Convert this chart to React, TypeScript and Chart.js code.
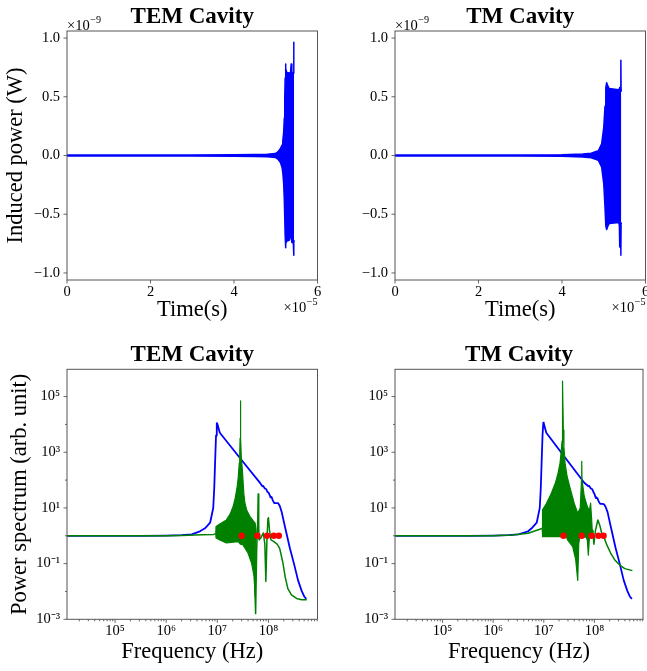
import React, { useEffect, useRef } from 'react';
import { Chart, registerables } from 'chart.js';

Chart.register(...registerables);

const PAGE_W = 647;
const PAGE_H = 671;
const SERIF = '"Liberation Serif", "Times New Roman", Times, serif';
const BLUE = '#0000ff';
const GREEN = '#008000';
const RED = '#ff0000';
const SPINE = '#555555';

// ---------------- Time domain (time in units of 1e-5 s, power in units of 1e-9 W) ----------------
const temTime = [0, 3.0, 4.0, 4.5, 4.8, 4.99, 5.05, 5.11, 5.15, 5.17, 5.19, 5.205, 5.215, 5.225, 5.232, 5.245, 5.26, 5.33, 5.355, 5.37, 5.385, 5.42, 5.43, 5.435, 5.44];
const temUpper = [0.004, 0.005, 0.006, 0.008, 0.01, 0.016, 0.03, 0.057, 0.09, 0.13, 0.2, 0.32, 0.48, 0.66, 0.78, 0.74, 0.71, 0.70, 0.71, 0.78, 0.71, 0.70, 0.965, 0.70, 0.70];
const temLower = [-0.004, -0.005, -0.006, -0.008, -0.01, -0.016, -0.03, -0.057, -0.1, -0.15, -0.24, -0.38, -0.52, -0.68, -0.786, -0.75, -0.73, -0.72, -0.68, -0.64, -0.74, -0.74, -0.85, -0.74, -0.72];

const tmTime = [0, 3.0, 4.0, 4.5, 4.7, 4.87, 4.95, 5.0, 5.03, 5.05, 5.07, 5.10, 5.13, 5.36, 5.375, 5.38, 5.385, 5.405, 5.41, 5.415, 5.42];
const tmUpper = [0.004, 0.005, 0.007, 0.012, 0.02, 0.04, 0.1, 0.24, 0.42, 0.58, 0.62, 0.59, 0.57, 0.56, 0.57, 0.58, 0.57, 0.56, 0.81, 0.56, 0.55];
const tmLower = [-0.004, -0.005, -0.007, -0.012, -0.02, -0.04, -0.1, -0.24, -0.44, -0.6, -0.63, -0.6, -0.58, -0.57, -0.6, -0.78, -0.6, -0.58, -0.85, -0.58, -0.57];

const timeTicks = [0, 2, 4, 6];
const timeTickLabels = ['0', '2', '4', '6'];
const powerTicks = [-1.0, -0.5, 0.0, 0.5, 1.0];
const powerTickLabels = ['\u22121.0', '\u22120.5', '0.0', '0.5', '1.0'];

// ---------------- Frequency domain (Hz, arb. unit) ----------------
const temBlueFreq = [1.15e4, 3.16e5, 1.0e6, 2.0e6, 3.16e6, 4.57e6, 5.75e6, 7.24e6, 8.32e6, 8.71e6, 9.12e6, 9.44e6, 9.77e6, 1.0e7, 1.12e7, 2.82e7, 6.92e7, 7.6e7, 7.9e7, 8.5e7, 9.1e7, 9.5e7, 1.0e8, 1.05e8, 1.1e8, 1.15e8, 1.2e8, 1.3e8, 1.45e8, 1.55e8, 1.66e8, 1.82e8, 2.09e8, 2.63e8, 3.16e8, 3.8e8, 4.47e8, 5.01e8, 5.5e8];
const temBluePower = [1.0, 1.0, 1.02, 1.05, 1.12, 1.45, 1.86, 2.95, 10, 50, 631, 4.0e3, 1.12e4, 1.05e4, 5.0e3, 600, 77.6, 60, 62, 50, 47, 38, 36, 30, 24, 25, 20, 15, 15, 14.8, 12, 7.1, 2.24, 0.355, 0.1, 0.025, 0.0105, 6.6e-3, 5.4e-3];

const temGreenFreq = [1.15e4, 1.0e6, 2.0e6, 5.0e6, 8.5e6, 9.33e6, 2.0e7, 3.98e7, 5.25e7, 5.62e7, 5.89e7, 6.17e7, 6.31e7, 6.46e7, 6.61e7, 7.24e7, 7.94e7, 8.51e7, 8.91e7, 9.33e7, 9.77e7, 1.0e8, 1.05e8, 1.12e8, 1.26e8, 1.48e8, 1.66e8, 1.91e8, 2.14e8, 2.4e8, 2.82e8, 3.55e8, 4.47e8, 5.62e8];
const temGreenPower = [1.0, 1.0, 1.03, 1.08, 1.12, 1.2, 1.0, 0.79, 0.1, 1.6e-3, 0.32, 3.2, 31.6, 2.0, 0.71, 0.89, 1.26, 0.5, 0.023, 0.63, 4.0, 4.47, 1.58, 0.71, 0.63, 0.5, 0.355, 0.112, 0.0316, 0.0126, 7.6e-3, 5.6e-3, 5.0e-3, 5.0e-3];

const temDenseFreq = [9.33e6, 9.44e6, 1.12e7, 1.51e7, 1.78e7, 2.04e7, 2.24e7, 2.45e7, 2.57e7, 2.69e7, 2.75e7, 2.79e7, 2.83e7, 2.88e7, 2.95e7, 3.09e7, 3.31e7, 3.47e7, 3.8e7, 4.37e7, 5.01e7, 5.5e7, 5.75e7];
const temDenseUpper = [1.2, 2.14, 2.63, 3.72, 6.0, 11.2, 22.4, 58.9, 126, 407, 1000, 3160, 7.08e4, 3160, 630, 234, 31.6, 14.8, 7.9, 4.9, 3.5, 2.82, 1.58];
const temDenseLowFreq = [9.33e6, 9.44e6, 1.12e7, 1.51e7, 2.57e7, 2.82e7, 3.16e7, 3.98e7, 4.68e7, 5.25e7, 5.5e7, 5.75e7];
const temDenseLower = [1.2, 0.83, 0.71, 0.55, 0.62, 0.5, 0.48, 0.24, 0.105, 0.035, 6.6e-3, 1.58];

const temModeFreq = [3.0e7, 6.1e7, 9.4e7, 1.27e8, 1.6e8];
const temModePower = [1, 1, 1, 1, 1];

const tmBlueFreq = [1.15e4, 3.16e5, 1.0e6, 2.0e6, 3.16e6, 4.9e6, 5.75e6, 7.24e6, 8.32e6, 8.71e6, 9.12e6, 9.44e6, 9.77e6, 1.0e7, 1.12e7, 2.19e7, 6.31e7, 7.6e7, 7.9e7, 8.5e7, 9.1e7, 9.5e7, 1.0e8, 1.07e8, 1.1e8, 1.15e8, 1.2e8, 1.3e8, 1.45e8, 1.55e8, 1.66e8, 1.82e8, 2.09e8, 2.63e8, 3.16e8, 3.8e8, 4.47e8, 5.01e8, 5.5e8];
const tmBluePower = [1.0, 1.0, 1.02, 1.05, 1.12, 1.45, 1.86, 2.95, 10, 50, 631, 4.0e3, 1.15e4, 1.08e4, 5.0e3, 1000, 80, 60, 62, 50, 47, 38, 32, 22.4, 24, 22, 18, 14, 14, 13.5, 11, 7.1, 2.24, 0.355, 0.1, 0.025, 0.0105, 6.6e-3, 5.4e-3];

const tmGreenFreq = [1.15e4, 1.0e6, 2.34e6, 4.9e6, 8.91e6, 9.33e6, 2.0e7, 5.0e7, 9.12e7, 9.33e7, 9.77e7, 1.05e8, 1.17e8, 1.29e8, 1.41e8, 1.58e8, 1.78e8, 2.09e8, 2.51e8, 3.16e8, 3.98e8, 5.62e8];
const tmGreenPower = [1.0, 1.0, 1.07, 1.23, 1.78, 1.86, 1.2, 1.0, 1.26, 1.58, 0.5, 1.58, 3.7, 2.24, 1.12, 0.79, 0.45, 0.24, 0.138, 0.089, 0.066, 0.056];

const tmDenseFreq = [9.33e6, 9.44e6, 1.12e7, 1.41e7, 1.7e7, 1.91e7, 2.09e7, 2.19e7, 2.29e7, 2.32e7, 2.37e7, 2.43e7, 2.5e7, 2.63e7, 2.88e7, 3.24e7, 3.98e7, 4.68e7, 5.25e7, 5.56e7, 5.62e7, 5.69e7, 6.31e7, 7.24e7, 7.94e7, 8.41e7, 8.81e7, 9.12e7];
const tmDenseUpper = [1.86, 8.5, 14.1, 33.9, 80, 178, 400, 933, 2500, 6310, 3.63e5, 6310, 1500, 407, 140, 58.9, 14.8, 6.5, 10, 100, 468, 100, 25.7, 11.2, 7.9, 14.8, 4.0, 1.26];
const tmDenseLowFreq = [9.33e6, 9.44e6, 2.0e7, 2.82e7, 2.95e7, 3.72e7, 4.27e7, 4.68e7, 4.9e7, 5.13e7, 6.92e7, 7.24e7, 7.59e7, 7.94e7, 8.51e7, 9.12e7];
const tmDenseLower = [1.86, 0.93, 0.93, 0.89, 0.71, 0.41, 0.138, 0.025, 0.5, 0.93, 0.89, 0.71, 0.2, 0.79, 0.89, 1.26];

const tmModeFreq = [2.45e7, 5.63e7, 8.82e7, 1.2e8, 1.52e8];
const tmModePower = [1, 1, 1, 1, 1];

const freqTicks = [1e5, 1e6, 1e7, 1e8];
const freqTickLabels = ['10\u2075', '10\u2076', '10\u2077', '10\u2078'];
const specTicks = [1e-3, 1e-1, 1e1, 1e3, 1e5];
const specTickLabels = ['10\u207B\u00B3', '10\u207B\u00B9', '10\u00B9', '10\u00B3', '10\u2075'];
const specMinorTicks = [1e-2, 1e0, 1e2, 1e4];

const FREQ_MIN = Math.pow(10, 4.06);
const FREQ_MAX = Math.pow(10, 8.96);
const SPEC_MIN = 1e-3;
const SPEC_MAX = Math.pow(10, 5.98);

function freqMinorTicks(): number[] {
  const out: number[] = [];
  for (let e = 4; e <= 8; e++) {
    for (let k = 2; k <= 9; k++) {
      const v = k * Math.pow(10, e);
      if (v > FREQ_MIN && v < FREQ_MAX) out.push(v);
    }
  }
  return out;
}

const pts = (xs: number[], ys: number[]) => xs.map((x, i) => ({ x, y: ys[i] }));

type Area = { left: number; top: number; right: number; bottom: number };
interface Panel {
  key: string;
  kind: 'time' | 'freq';
  title: string;
  xTitle: string;
  yTitle: string | null;
  area: Area;
  yTitleX: number;
  xTitleY: number;
  datasets: any[];
}

function lineDs(data: any[], color: string, width: number, order: number, fill: any = false) {
  return {
    data,
    borderColor: color,
    backgroundColor: color,
    borderWidth: width,
    pointRadius: 0,
    borderJoinStyle: 'round',
    fill,
    order,
  };
}

function timeDatasets(t: number[], up: number[], lo: number[]) {
  return [lineDs(pts(t, up), BLUE, 1.5, 1, false), lineDs(pts(t, lo), BLUE, 1.5, 1, '-1')];
}

function freqDatasets(
  bf: number[], bp: number[], gf: number[], gp: number[],
  df: number[], du: number[], dlf: number[], dl: number[],
  mf: number[], mp: number[]
) {
  return [
    lineDs(pts(bf, bp), BLUE, 1.8, 4),
    lineDs(pts(gf, gp), GREEN, 1.5, 3),
    lineDs(pts(df, du), GREEN, 1.2, 2, false),
    lineDs(pts(dlf, dl), GREEN, 1.2, 2, '-1'),
    {
      data: pts(mf, mp),
      showLine: false,
      pointRadius: 3.2,
      pointBackgroundColor: RED,
      pointBorderWidth: 0,
      borderColor: RED,
      backgroundColor: RED,
      order: 1,
    },
  ];
}

const PANELS: Panel[] = [
  {
    key: 'tem-time', kind: 'time', title: 'TEM Cavity', xTitle: 'Time(s)', yTitle: 'Induced power (W)',
    area: { left: 67, top: 31, right: 317.5, bottom: 280 }, yTitleX: 16.5, xTitleY: 310,
    datasets: timeDatasets(temTime, temUpper, temLower),
  },
  {
    key: 'tm-time', kind: 'time', title: 'TM Cavity', xTitle: 'Time(s)', yTitle: null,
    area: { left: 395, top: 31, right: 645.5, bottom: 280 }, yTitleX: 0, xTitleY: 310,
    datasets: timeDatasets(tmTime, tmUpper, tmLower),
  },
  {
    key: 'tem-freq', kind: 'freq', title: 'TEM Cavity', xTitle: 'Frequency (Hz)', yTitle: 'Power spectrum (arb. unit)',
    area: { left: 67, top: 369.3, right: 317.5, bottom: 619.3 }, yTitleX: 20.5, xTitleY: 652.4,
    datasets: freqDatasets(temBlueFreq, temBluePower, temGreenFreq, temGreenPower, temDenseFreq, temDenseUpper, temDenseLowFreq, temDenseLower, temModeFreq, temModePower),
  },
  {
    key: 'tm-freq', kind: 'freq', title: 'TM Cavity', xTitle: 'Frequency (Hz)', yTitle: null,
    area: { left: 395, top: 369.3, right: 645.5, bottom: 619.3 }, yTitleX: 0, xTitleY: 652.4,
    datasets: freqDatasets(tmBlueFreq, tmBluePower, tmGreenFreq, tmGreenPower, tmDenseFreq, tmDenseUpper, tmDenseLowFreq, tmDenseLower, tmModeFreq, tmModePower),
  },
];

function drawSci(ctx: CanvasRenderingContext2D, x: number, y: number, exp: string, align: 'left' | 'right') {
  const base = '\u00D710';
  ctx.font = `14.5px ${SERIF}`;
  const bw = ctx.measureText(base).width;
  ctx.font = `10.2px ${SERIF}`;
  const ew = ctx.measureText(exp).width;
  const x0 = align === 'left' ? x : x - bw - ew - 0.5;
  ctx.textAlign = 'left';
  ctx.textBaseline = 'alphabetic';
  ctx.font = `14.5px ${SERIF}`;
  ctx.fillText(base, x0, y);
  ctx.font = `10.2px ${SERIF}`;
  ctx.fillText(exp, x0 + bw + 0.5, y - 6.5);
}

function decorPlugin(p: Panel) {
  return {
    id: 'decor',
    afterDraw(chart: any) {
      const ctx: CanvasRenderingContext2D = chart.ctx;
      const a = chart.chartArea;
      const xs = chart.scales.x;
      const ys = chart.scales.y;
      const xMarks: [number, number][] = [];
      const yMarks: [number, number][] = [];
      if (p.kind === 'time') {
        timeTicks.forEach((v) => xMarks.push([v, 3.5]));
        powerTicks.forEach((v) => yMarks.push([v, 3.5]));
      } else {
        freqTicks.forEach((v) => xMarks.push([v, 3.5]));
        freqMinorTicks().forEach((v) => xMarks.push([v, 2]));
        specTicks.forEach((v) => yMarks.push([v, 3.5]));
        specMinorTicks.forEach((v) => yMarks.push([v, 2]));
      }
      ctx.save();
      ctx.strokeStyle = SPINE;
      ctx.lineWidth = 0.9;
      ctx.beginPath();
      for (const [v, len] of xMarks) {
        const px = xs.getPixelForValue(v);
        ctx.moveTo(px, a.bottom);
        ctx.lineTo(px, a.bottom + len);
      }
      for (const [v, len] of yMarks) {
        const py = ys.getPixelForValue(v);
        ctx.moveTo(a.left, py);
        ctx.lineTo(a.left - len, py);
      }
      ctx.stroke();
      ctx.lineWidth = 1;
      ctx.strokeRect(a.left, a.top, a.right - a.left, a.bottom - a.top);

      ctx.fillStyle = '#000';
      ctx.font = `bold 23px ${SERIF}`;
      ctx.textAlign = 'center';
      ctx.textBaseline = 'alphabetic';
      ctx.fillText(p.title, (a.left + a.right) / 2, a.top - 8.5);
      if (p.kind === 'time') {
        drawSci(ctx, a.left, a.top - 1.5, '\u22129', 'left');
        drawSci(ctx, a.right, a.bottom + 31.7, '\u22125', 'right');
      }
      ctx.restore();
    },
  };
}

function makeConfig(p: Panel): any {
  const a = p.area;
  const scaleLeft = p.yTitle ? p.yTitleX - 13.5 : a.left - 60;
  const yW = a.left - scaleLeft;
  const scaleBottom = p.xTitleY + 13.5;
  const xH = scaleBottom - a.bottom;
  const padding = { left: scaleLeft, top: a.top, right: PAGE_W - a.right, bottom: PAGE_H - scaleBottom };

  const isTime = p.kind === 'time';
  const xVals = isTime ? timeTicks : freqTicks;
  const xLabels = isTime ? timeTickLabels : freqTickLabels;
  const yVals = isTime ? powerTicks : specTicks;
  const yLabels = isTime ? powerTickLabels : specTickLabels;

  const tickFont = { family: SERIF, size: 14.5 };
  const titleFont = { family: SERIF, size: 22.5, lineHeight: 1.2 };

  const labelFor = (vals: number[], labels: string[]) => (value: number) => {
    for (let i = 0; i < vals.length; i++) {
      if (Math.abs(vals[i] - value) <= Math.abs(vals[i]) * 1e-6 + 1e-12) return labels[i];
    }
    return '';
  };

  return {
    type: 'line',
    data: { datasets: p.datasets },
    plugins: [decorPlugin(p)],
    options: {
      responsive: false,
      maintainAspectRatio: false,
      animation: false,
      events: [],
      layout: { padding },
      plugins: { legend: { display: false }, tooltip: { enabled: false }, title: { display: false } },
      scales: {
        x: {
          type: isTime ? 'linear' : 'logarithmic',
          position: 'bottom',
          min: isTime ? 0 : FREQ_MIN,
          max: isTime ? 6 : FREQ_MAX,
          grid: { display: false, drawTicks: false },
          border: { display: false },
          ticks: {
            font: tickFont, color: '#000', padding: 3.3, autoSkip: false, maxRotation: 0, minRotation: 0,
            callback: labelFor(xVals, xLabels),
          },
          title: { display: true, text: p.xTitle, font: titleFont, color: '#000', padding: 0 },
          afterBuildTicks: (s: any) => { s.ticks = xVals.map((v) => ({ value: v })); },
          afterFit: (s: any) => {
            s.height = xH;
            s.paddingLeft = 0; s.paddingRight = 0; s.paddingTop = 0; s.paddingBottom = 0;
          },
        },
        y: {
          type: isTime ? 'linear' : 'logarithmic',
          position: 'left',
          min: isTime ? -1.06 : SPEC_MIN,
          max: isTime ? 1.06 : SPEC_MAX,
          grid: { display: false, drawTicks: false },
          border: { display: false },
          ticks: {
            font: tickFont, color: '#000', padding: 7, autoSkip: false,
            callback: labelFor(yVals, yLabels),
          },
          title: { display: !!p.yTitle, text: p.yTitle || '', font: titleFont, color: '#000', padding: 0 },
          afterBuildTicks: (s: any) => { s.ticks = yVals.map((v) => ({ value: v })); },
          afterFit: (s: any) => {
            s.width = yW;
            s.paddingLeft = 0; s.paddingRight = 0; s.paddingTop = 0; s.paddingBottom = 0;
          },
        },
      },
    },
  };
}

function PanelChart({ panel }: { panel: Panel }) {
  const ref = useRef<HTMLCanvasElement>(null);
  useEffect(() => {
    if (!ref.current) return;
    const chart = new Chart(ref.current, makeConfig(panel));
    return () => chart.destroy();
  }, [panel]);
  return (
    <canvas
      ref={ref}
      width={PAGE_W}
      height={PAGE_H}
      style={{ position: 'absolute', left: 0, top: 0, width: PAGE_W, height: PAGE_H }}
    />
  );
}

export default function App() {
  return (
    <div
      style={{
        position: 'fixed', left: 0, top: 0, width: PAGE_W, height: PAGE_H,
        background: '#ffffff', overflow: 'hidden',
      }}
    >
      {PANELS.map((p) => (
        <PanelChart key={p.key} panel={p} />
      ))}
    </div>
  );
}
